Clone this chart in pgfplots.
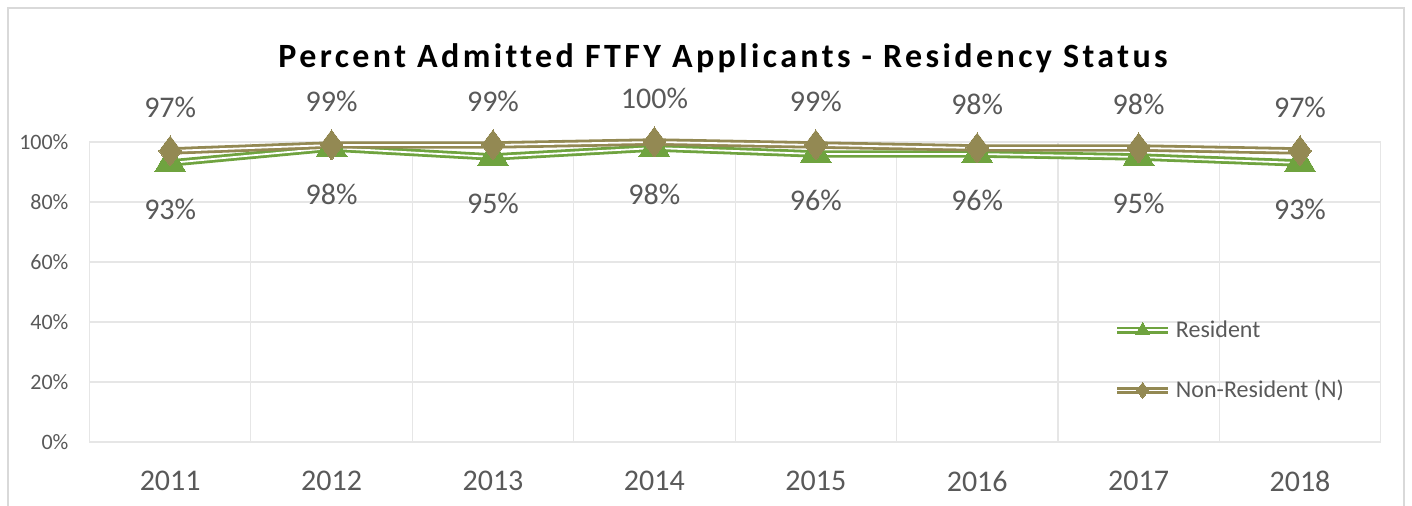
\documentclass[border=0pt]{standalone}
\usepackage{pgfplots}
\pgfplotsset{compat=1.18}
\usepackage{fontspec}
\setmainfont{Carlito}
\definecolor{resgreen}{HTML}{6FA33F}
\definecolor{nonres}{HTML}{938953}
\definecolor{txtgray}{HTML}{595959}
\definecolor{gridgray}{HTML}{E6E6E6}
\definecolor{framegray}{HTML}{D9D9D9}

\begin{document}
\begin{tikzpicture}
\useasboundingbox (-44.75pt,-32pt) rectangle (661.25pt,221pt);
\draw[framegray, line width=0.8pt] (-40.75pt,-40pt) rectangle (657.25pt,217pt);
\node[font=\fontsize{17}{19}\selectfont\bfseries\addfontfeature{LetterSpace=10,Ligatures=NoCommon}, black]
  at (316.75pt,192pt) {Percent Admitted FTFY Applicants - Residency Status};
\begin{axis}[
  at={(0pt,0pt)}, anchor=south west,
  scale only axis, width=645.6pt, height=150pt,
  xmin=-0.5, xmax=7.5, ymin=0, ymax=100,
  xtick={0,...,7},
  xticklabels={2011,2012,2013,2014,2015,2016,2017,2018},
  minor xtick={-0.5,0.5,...,7.5},
  ytick={0,20,...,100},
  yticklabel={\pgfmathprintnumber{\tick}\%},
  /pgf/number format/assume math mode=true,
  xmajorgrids=false, xminorgrids=true, ymajorgrids=true,
  grid style={gridgray, line width=0.6pt},
  minor grid style={gridgray, line width=0.6pt},
  axis line style={draw=none},
  major tick length=0pt, minor tick length=0pt,
  tick label style={txtgray},
  x tick label style={font=\fontsize{15}{17}\selectfont, yshift=-11pt},
  y tick label style={font=\fontsize{11}{13}\selectfont, xshift=-7pt},
  clip=false,
  legend style={at={(rel axis cs:0.788,0.433)}, anchor=north west, draw=none, fill=none,
    font=\fontsize{12}{14}\selectfont, text=txtgray, row sep=16pt,
    cells={anchor=west}},
  legend image code/.code={
    \draw[#1, mark size=4pt, mark repeat=2, mark phase=2]
      plot coordinates {(0cm,0cm) (0.45cm,0cm) (0.9cm,0cm)};},
  nodes near coords={\pgfmathprintnumber{\pgfplotspointmeta}\%},
  every node near coord/.append style={font=\fontsize{15}{17}\selectfont, text=txtgray, anchor=center},
]
\addplot[resgreen, line width=1.4pt, double=white, double distance=0.9pt,
  mark=triangle*, mark size=9pt, mark options={fill=resgreen, draw=resgreen, line width=0pt, double=none, solid},
  nodes near coords style={yshift=-23pt}]
  coordinates {(0,93) (1,98) (2,95) (3,98) (4,96) (5,96) (6,95) (7,93)};
\addlegendentry{Resident}
\addplot[nonres, line width=1.4pt, double=white, double distance=0.9pt,
  mark=diamond*, mark size=7.5pt, mark options={fill=nonres, draw=nonres, line width=0pt, double=none, solid},
  nodes near coords style={yshift=22pt}]
  coordinates {(0,97) (1,99) (2,99) (3,100) (4,99) (5,98) (6,98) (7,97)};
\addlegendentry{Non-Resident (N)}
\end{axis}
\end{tikzpicture}
\end{document}
